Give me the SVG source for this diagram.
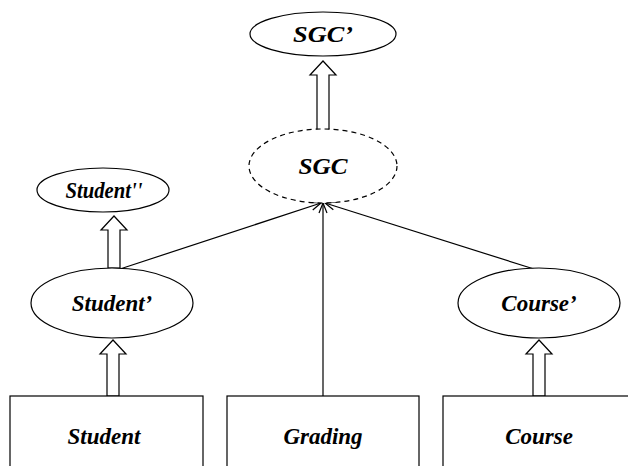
<svg xmlns="http://www.w3.org/2000/svg" width="628" height="466" viewBox="0 0 628 466">
<defs>
<style>
.shape{fill:#fff;stroke:#000;stroke-width:1.2}
.dash{fill:#fff;stroke:#000;stroke-width:1.2;stroke-dasharray:5,4}
.lbl{font-family:"Liberation Serif",serif;font-weight:bold;font-style:italic;font-size:23px;text-anchor:middle;fill:#000}
.line{fill:none;stroke:#000;stroke-width:1.2}
.hollow{fill:#fff;stroke:#000;stroke-width:1.2}
</style>
<marker id="open" markerWidth="12" markerHeight="10" refX="11" refY="5" orient="auto" markerUnits="userSpaceOnUse">
<path d="M1,1 L11,5 L1,9" fill="none" stroke="#000" stroke-width="1.2"/>
</marker>
</defs>
<g id="connectors">
<line class="line" x1="120" y1="269" x2="321" y2="203" marker-end="url(#open)"/>
<line class="line" x1="323" y1="396" x2="323" y2="203" marker-end="url(#open)"/>
<line class="line" x1="534" y1="269" x2="325" y2="203" marker-end="url(#open)"/>
<polygon class="hollow" points="317,131 317,75 310,75 323,61 336,75 329,75 329,131"/>
<polygon class="hollow" points="108,268 108,230 101,230 114,216 127,230 120,230 120,268"/>
<polygon class="hollow" points="107,396 107,354 100,354 113,340 126,354 119,354 119,396"/>
<polygon class="hollow" points="533,396 533,354 526,354 539,340 552,354 545,354 545,396"/>
</g>
<g id="sgc2"><ellipse class="shape" cx="323" cy="34" rx="73" ry="22"/><text class="lbl" x="323" y="42" textLength="60" lengthAdjust="spacingAndGlyphs">SGC’</text></g>
<g id="sgc"><ellipse class="dash" cx="323" cy="166" rx="74" ry="37"/><text class="lbl" x="323" y="174" textLength="49" lengthAdjust="spacingAndGlyphs">SGC</text></g>
<g id="student2"><ellipse class="shape" cx="103" cy="190" rx="66" ry="22"/><text class="lbl" x="104" y="198" textLength="77" lengthAdjust="spacingAndGlyphs">Student''</text></g>
<g id="student1"><ellipse class="shape" cx="112" cy="303" rx="81" ry="35"/><text class="lbl" x="112" y="311">Student’</text></g>
<g id="course1"><ellipse class="shape" cx="539" cy="303" rx="81" ry="35"/><text class="lbl" x="539" y="311">Course’</text></g>
<g id="student"><rect class="shape" x="10" y="396" width="193" height="80"/><text class="lbl" x="104" y="444">Student</text></g>
<g id="grading"><rect class="shape" x="227" y="396" width="192" height="80"/><text class="lbl" x="323" y="444">Grading</text></g>
<g id="course"><rect class="shape" x="443" y="396" width="200" height="80"/><text class="lbl" x="539" y="444">Course</text></g>
</svg>
